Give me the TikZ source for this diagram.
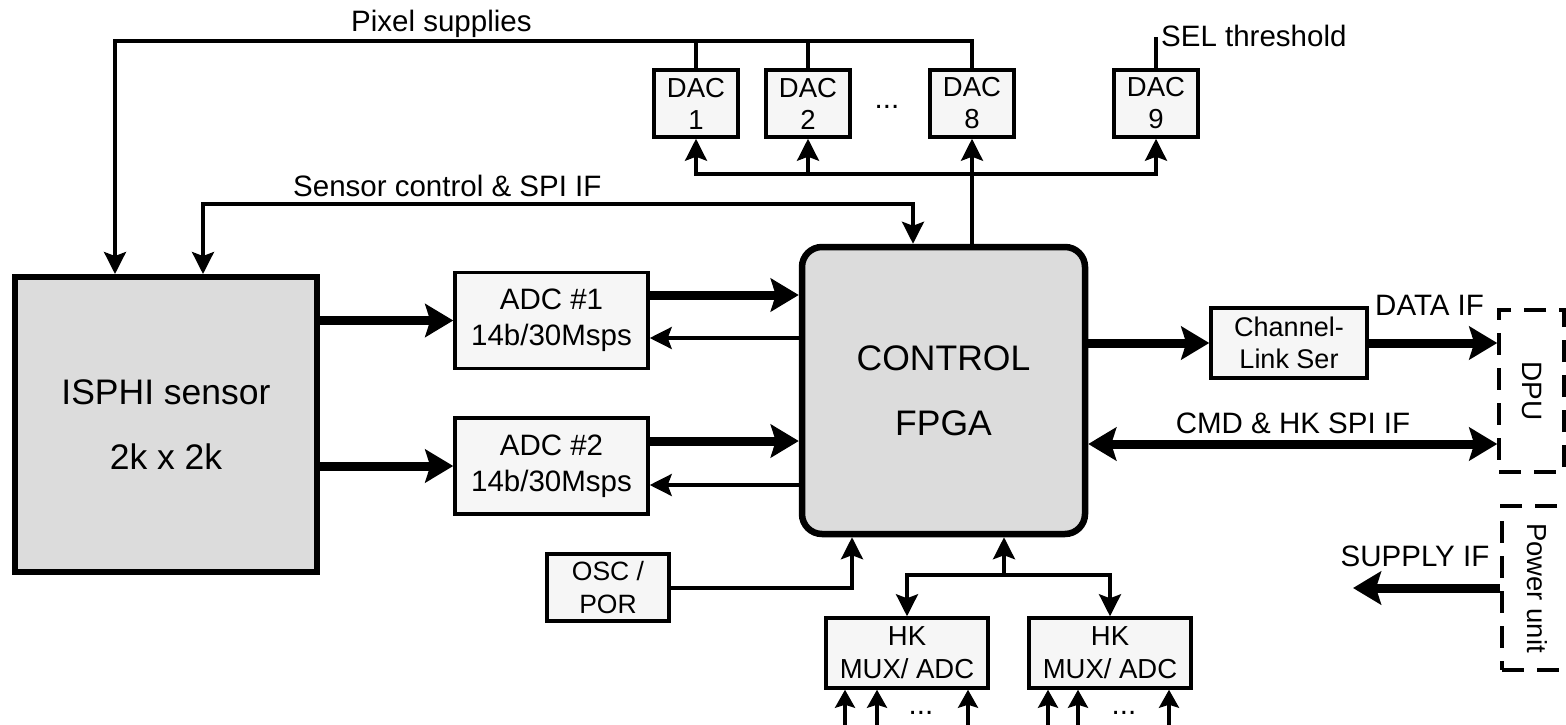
\documentclass[tikz,border=0pt]{standalone}
\usepackage{fontspec}
\setmainfont{Liberation Sans}
\usetikzlibrary{arrows.meta,calc}

\definecolor{chipgray}{HTML}{DCDCDC}
\definecolor{boxfill}{HTML}{F6F6F6}

\begin{document}
\begin{tikzpicture}[x=1pt,y=-1pt,
  every node/.style={inner sep=0pt},
  blk/.style={draw, line width=3.5pt, fill=boxfill, align=center},
  chip/.style={draw, line width=6pt, fill=chipgray, align=center,
    font=\fontsize{35.5}{65}\selectfont},
  iface/.style={draw, line width=3.5pt, dash pattern=on 22pt off 13pt},
  lbl/.style={font=\fontsize{29.5}{34}\selectfont},
  ln/.style={line width=3.2pt},
  arr/.style={ln, -{Stealth[length=22pt,width=22pt,inset=4pt]}},
  arrboth/.style={ln, {Stealth[length=22pt,width=22pt,inset=4pt]}-{Stealth[length=22pt,width=22pt,inset=4pt]}},
  sarr/.style={ln, -{Stealth[length=18pt,width=20pt,inset=3pt]}},
  thk/.style={line width=9pt, -{Stealth[length=28pt,width=33pt,inset=5pt]}},
  thkboth/.style={line width=9pt, {Stealth[length=28pt,width=33pt,inset=5pt]}-{Stealth[length=28pt,width=33pt,inset=5pt]}}
]
\useasboundingbox (0,0) rectangle (1566,725);

% ---------- main blocks ----------
\node[chip, minimum width=302pt, minimum height=295pt] (sensor) at (166,424.5)
  {ISPHI sensor\\2k x 2k};
\node[chip, line width=6.5pt, rounded corners=20pt, minimum width=283pt, minimum height=287pt]
  (fpga) at (943.5,390.5) {CONTROL\\FPGA};

\node[blk, minimum width=193pt, minimum height=96pt, font=\fontsize{29.5}{36}\selectfont]
  (adc1) at (551.5,320.5) {ADC \#1\\14b/30Msps};
\node[blk, minimum width=193pt, minimum height=96pt, font=\fontsize{29.5}{36}\selectfont]
  (adc2) at (551.5,466) {ADC \#2\\14b/30Msps};

\foreach \n/\x/\t in {dac1/696/1, dac2/808/2, dac8/972/8, dac9/1156/9}
  \node[blk, minimum width=84pt, minimum height=67pt, font=\fontsize{27.5}{32}\selectfont]
    (\n) at (\x,103.5) {DAC\\\t};
\node[lbl, anchor=base] (dacdots) at (887,108) {...};

\node[blk, minimum width=156pt, minimum height=70pt, font=\fontsize{27}{32}\selectfont]
  (chlink) at (1289,343) {Channel-\\Link Ser};
\node[blk, minimum width=122pt, minimum height=67pt, font=\fontsize{26.5}{33}\selectfont]
  (osc) at (608,587.5) {OSC /\\POR};
\node[blk, minimum width=162pt, minimum height=70pt, font=\fontsize{27.5}{33}\selectfont]
  (hk1) at (907,653) {HK\\MUX/ ADC};
\node[blk, minimum width=162pt, minimum height=70pt, font=\fontsize{27.5}{33}\selectfont]
  (hk2) at (1110,653) {HK\\MUX/ ADC};

% ---------- external interfaces ----------
\node[iface, minimum width=65pt, minimum height=162pt] (dpu) at (1531.5,391) {};
\node[rotate=-90, font=\fontsize{28}{33}\selectfont] (dpulbl) at (1532,391) {DPU};
\node[iface, minimum width=68pt, minimum height=164pt] (pwr) at (1536,588) {};
\node[rotate=-90, font=\fontsize{27.5}{33}\selectfont] (pwrlbl) at (1537,588) {Power unit};

% ---------- levels and free ends ----------
\coordinate (pixdrop) at (115,41);
\coordinate (dacbus) at (0,174);
\coordinate (scL) at (203,204);
\coordinate (scR) at (913,204);
\coordinate (ya1) at (0,295);
\coordinate (yr1) at (0,338);
\coordinate (ya2) at (0,441);
\coordinate (yr2) at (0,485);
\coordinate (ycmd) at (0,444);
\coordinate (seltop) at (1156,37);
\coordinate (oscup) at (852,588);
\coordinate (hkfork) at (1004,575);
\coordinate (suptip) at (1353,588);

% ---------- pixel supplies ----------
\draw[arr] (dac8.north) |- (pixdrop) -- (pixdrop |- sensor.north);
\draw[ln] (dac1.north) -- (dac1.north |- pixdrop);
\draw[ln] (dac2.north) -- (dac2.north |- pixdrop);
\node[lbl, anchor=base west] (lpix) at (351,32) {Pixel supplies};

% SEL threshold
\draw[ln] (dac9.north) -- (seltop);
\node[lbl, anchor=base west] (lsel) at (1161,47) {SEL threshold};

% ---------- DAC programming ----------
\draw[arr] (fpga.north -| dac8.south) -- (dac8.south);
\draw[arr] (dac8.south |- dacbus) -| (dac1.south);
\draw[arr] (dac8.south |- dacbus) -| (dac9.south);
\draw[arr] (dac2.south |- dacbus) -- (dac2.south);

% ---------- sensor control ----------
\draw[arrboth] (scL |- sensor.north) -- (scL) -- (scR) -- (scR |- fpga.north);
\node[lbl, anchor=base west] (lsc) at (293,196) {Sensor control \& SPI IF};

% ---------- video path ----------
\draw[thk] (sensor.east |- adc1.west) -- (adc1.west);
\draw[thk] (sensor.east |- adc2.west) -- (adc2.west);
\draw[thk] (adc1.east |- ya1) -- (fpga.west |- ya1);
\draw[arr] (fpga.west |- yr1) -- (adc1.east |- yr1);
\draw[thk] (adc2.east |- ya2) -- (fpga.west |- ya2);
\draw[arr] (fpga.west |- yr2) -- (adc2.east |- yr2);

% ---------- DPU interfaces ----------
\draw[thk] (fpga.east |- chlink.west) -- (chlink.west);
\draw[thk] (chlink.east) -- (chlink.east -| dpu.west);
\node[lbl, anchor=base west] (ldata) at (1375,315) {DATA IF};
\draw[thkboth] (fpga.east |- ycmd) -- (dpu.west |- ycmd);
\node[lbl, anchor=base] (lcmd) at (1293,433) {CMD \& HK SPI IF};

% ---------- power supply ----------
\draw[thk] (pwr.west |- suptip) -- (suptip);
\node[lbl, anchor=base] (lsup) at (1415,566) {SUPPLY IF};

% ---------- clock / reset ----------
\draw[arr] (osc.east |- oscup) -- (oscup) -- (oscup |- fpga.south);

% ---------- housekeeping ----------
\draw[arr] (hkfork) -- (hkfork |- fpga.south);
\draw[arr] (hkfork) -| (hk1.north);
\draw[arr] (hkfork) -| (hk2.north);
\foreach \i/\x in {a/845, b/877, c/968}{
  \coordinate (in\i) at (\x,727);
  \draw[sarr] (in\i) -- (in\i |- hk1.south);
}
\foreach \i/\x in {d/1048, e/1078, f/1169}{
  \coordinate (in\i) at (\x,727);
  \draw[sarr] (in\i) -- (in\i |- hk2.south);
}
\node[lbl, anchor=base] (hkdots1) at (921,714) {...};
\node[lbl, anchor=base] (hkdots2) at (1124,714) {...};
\end{tikzpicture}
\end{document}
